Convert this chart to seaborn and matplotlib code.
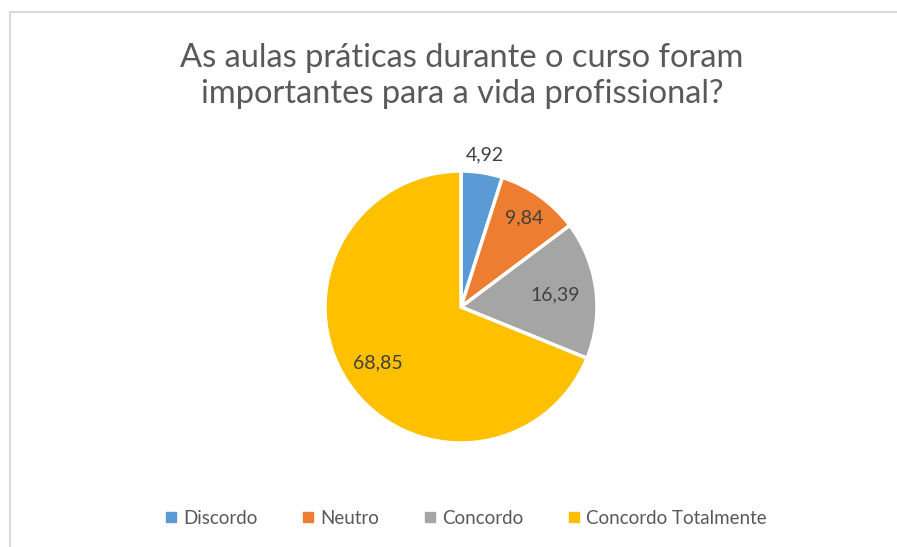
import matplotlib.pyplot as plt
import numpy as np
import seaborn as sns
from matplotlib.lines import Line2D

categories = ["Discordo", "Neutro", "Concordo", "Concordo Totalmente"]
values = [4.92, 9.84, 16.39, 68.85]
colors = ["#5B9BD5", "#ED7D31", "#A5A5A5", "#FFC000"]
title = "As aulas práticas durante o curso foram\nimportantes para a vida profissional?"

sns.set_theme(style="white")
plt.rcParams["font.family"] = ["Lato", "DejaVu Sans"]

W, H = 897, 547
fig = plt.figure(figsize=(W / 100, H / 100), dpi=100)

# moldura do gráfico (estilo Excel): só topo e lado esquerdo aparecem no recorte
bx, by = 9.5 / W, 1 - 11.5 / H
fig.add_artist(Line2D([bx, 1.0], [by, by], transform=fig.transFigure,
                      color="#D9D9D9", linewidth=1.5))
fig.add_artist(Line2D([bx, bx], [0.0, by], transform=fig.transFigure,
                      color="#D9D9D9", linewidth=1.5))

cx, cy, r = 461, 307, 136
ax = fig.add_axes([(cx - r) / W, (H - cy - r) / H, 2 * r / W, 2 * r / H])

wedges, _ = ax.pie(values, colors=colors, startangle=90, counterclock=False,
                   wedgeprops=dict(edgecolor="white", linewidth=2.5))
ax.set_xlim(-1, 1)
ax.set_ylim(-1, 1)
ax.set_aspect("equal")
ax.axis("off")

# posição dos rótulos (fração do raio)
label_dist = [1.13, 0.80, 0.70, 0.74]
for w, v, d in zip(wedges, values, label_dist):
    ang = np.deg2rad((w.theta1 + w.theta2) / 2)
    ax.text(d * np.cos(ang), d * np.sin(ang), f"{v:.2f}".replace(".", ","),
            ha="center", va="center", fontsize=14, color="#404040")

fig.text(462 / W, 1 - 76 / H, title, ha="center", va="center", fontsize=23.5,
         color="#595959", linespacing=1.25)

handles = [Line2D([], [], marker="s", linestyle="", markersize=6.5, color=c) for c in colors]
fig.legend(handles, categories, loc="center", bbox_to_anchor=(465 / W, 1 - 518 / H),
           ncol=4, frameon=False, fontsize=13.5, labelcolor="#595959",
           handletextpad=0.25, columnspacing=2.3, handlelength=0.8)

fig.savefig("out.png", dpi=100)
